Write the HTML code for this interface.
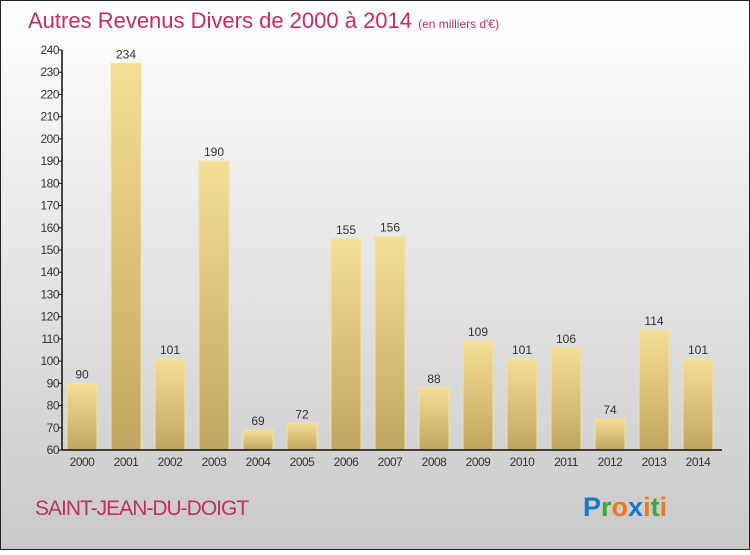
<!DOCTYPE html>
<html><head><meta charset="utf-8"><style>
html,body{margin:0;padding:0;}
body{width:750px;height:550px;overflow:hidden;font-family:"Liberation Sans",sans-serif;}
</style></head><body>
<svg width="750" height="550" xmlns="http://www.w3.org/2000/svg">
<defs>
<linearGradient id="bg" x1="0" y1="0" x2="0" y2="1"><stop offset="0" stop-color="#ffffff"/><stop offset="1" stop-color="#c9c9c9"/></linearGradient>
<linearGradient id="bar" x1="0" y1="0" x2="0" y2="1"><stop offset="0" stop-color="#f5de96"/><stop offset="1" stop-color="#c0a660"/></linearGradient>
</defs>
<rect x="0.5" y="0.5" width="749" height="549" fill="url(#bg)" stroke="#222"/>
<text x="28" y="28" font-size="22" fill="#c0305e">Autres Revenus Divers de 2000 à 2014 <tspan font-size="12">(en milliers d'€)</tspan></text>
<g id="yaxis"></g>
<g id="bars"></g>
<g id="xaxis"></g>
<text x="35" y="515" font-size="21" fill="#c0305e" letter-spacing="-1">SAINT-JEAN-DU-DOIGT</text>
<text x="583" y="516" font-size="27" font-weight="bold"><tspan fill="#1a78c8">P</tspan><tspan fill="#3aa83a">r</tspan><tspan fill="#f07818">o</tspan><tspan fill="#1a78c8">x</tspan><tspan fill="#f07818">i</tspan><tspan fill="#3aa83a">t</tspan><tspan fill="#f07818">i</tspan></text>
</svg>
<script>
const categories=["2000","2001","2002","2003","2004","2005","2006","2007","2008","2009","2010","2011","2012","2013","2014"];
const values=[90,234,101,190,69,72,155,156,88,109,101,106,74,114,101];
const yTicks=[60,70,80,90,100,110,120,130,140,150,160,170,180,190,200,210,220,230,240];
const NS="http://www.w3.org/2000/svg";
const y0=450,y1=50,vmin=60,vmax=240,xl=62,xr=722;
function y(v){return y0-(v-vmin)/(vmax-vmin)*(y0-y1);}
function x(i){return 82+i*44;}
function mk(t,a,p,txt){const e=document.createElementNS(NS,t);for(const k in a)e.setAttribute(k,a[k]);if(txt!==undefined)e.textContent=txt;p.appendChild(e);return e;}
const ya=document.getElementById('yaxis'),xa=document.getElementById('xaxis'),bg=document.getElementById('bars');
const al=mk('line',{x1:xl,y1:y1,x2:xl,y2:y0,stroke:'#111','stroke-width':1.5},ya);


yTicks.forEach(t=>{
 const l=mk('line',{x1:xl-4,y1:y(t),x2:xl,y2:y(t),stroke:'#111'},ya);
 
 
 const tx=mk('text',{x:xl-3,y:y(t)+4,'font-size':12,fill:'#333','text-anchor':'end','letter-spacing':'-0.5'},ya,t);
 
 
});
values.forEach((v,i)=>{
 const r=mk('rect',{x:x(i)-15,y:y(v),width:30,height:y0-y(v),fill:'url(#bar)',stroke:'#f5e2a0','stroke-width':1},bg);
 
 
 const t=mk('text',{x:x(i),y:y(v)-5,'font-size':12,fill:'#333','text-anchor':'middle'},bg,v);
 
 
});
const xl2=mk('line',{x1:xl,y1:y0,x2:xr,y2:y0,stroke:'#111','stroke-width':1.5},xa);


categories.forEach((c,i)=>{
 const t=mk('text',{x:x(i),y:y0+16,'font-size':12,fill:'#333','text-anchor':'middle','letter-spacing':'-0.5'},xa,c);
 
 
});
</script>
</body></html>
